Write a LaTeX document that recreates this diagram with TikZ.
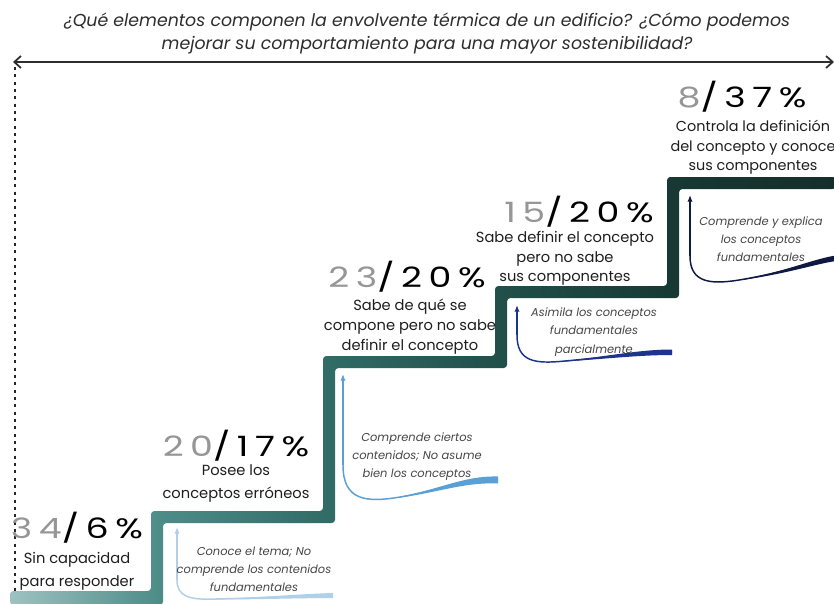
\documentclass[tikz,border=0pt]{standalone}
\usepackage{fontspec}
\usepackage{graphicx}
\setmainfont{Poppins}
\newfontfamily\numfont[LetterSpace=18]{Poppins}
\usetikzlibrary{arrows.meta}
\definecolor{numgray}{RGB}{150,150,150}
\definecolor{labtxt}{RGB}{30,30,30}
\definecolor{ittxt}{RGB}{70,70,70}
\definecolor{titletxt}{RGB}{45,45,45}
\definecolor{arrA}{RGB}{175,208,232}
\definecolor{arrB}{RGB}{90,160,215}
\definecolor{arrC}{RGB}{28,52,140}
\definecolor{arrD}{RGB}{15,25,65}
\pgfdeclarehorizontalshading{stairshade}{100bp}{rgb(0bp)=(0.62,0.76,0.76); rgb(25bp)=(0.62,0.76,0.76); rgb(34bp)=(0.30,0.55,0.53); rgb(44.4bp)=(0.19,0.42,0.40); rgb(54.7bp)=(0.13,0.31,0.29); rgb(65.2bp)=(0.09,0.22,0.20); rgb(75bp)=(0.08,0.18,0.17); rgb(100bp)=(0.08,0.18,0.17)}
\newcommand{\numtxt}[2]{\scalebox{1.3}[1]{\textcolor{numgray}{#1}/#2\%}}
\tikzset{
  num/.style={inner sep=0pt, text=black, font=\numfont\fontsize{21}{24}\selectfont},
  lab/.style={inner sep=0pt, align=center, text=labtxt},
  itl/.style={inner sep=0pt, align=center, text=ittxt, font=\itshape\fontsize{8.6}{13.6}\selectfont},
  curveline/.style={line width=1.1pt},
}
\begin{document}
\begin{tikzpicture}[x=0.75pt,y=-0.75pt]
\useasboundingbox (0,0) rectangle (834,603);
\fill[white] (0,0) rectangle (834,603);
% title
\node[inner sep=0pt, align=center, text=titletxt, font=\itshape\fontsize{13}{17.3}\selectfont] (title) at (427,33)
  {¿Qué elementos componen la envolvente térmica de un edificio? ¿Cómo podemos\\ mejorar su comportamiento para una mayor sostenibilidad?};
% axis
\coordinate (axL) at (13,62);
\coordinate (axR) at (834,62);
\draw[line width=1.3pt, titletxt, {Straight Barb[length=5pt,width=9pt]}-{Straight Barb[length=5pt,width=9pt]}] (axL) -- (axR);
\coordinate (dotT) at (15,67);
\coordinate (dotB) at (15,603);
\draw[line width=2.1pt, black!85, dash pattern=on 2.2pt off 3.3pt] (dotT) -- (dotB);
% staircase band
\shade[shading=stairshade, rounded corners=2.5pt]
 (10,591) -- (151,591) -- (151,511) -- (323,511) -- (323,356) -- (495,356) -- (495,286) -- (667,286) -- (667,177) -- (836,177)
 -- (836,189) -- (679,189) -- (679,298) -- (507,298) -- (507,368) -- (335,368) -- (335,523) -- (163,523) -- (163,605) -- (10,605) -- cycle;
% curved arrows
% A
\coordinate (tA) at (177,527);
\coordinate (vA) at (177,580);
\draw[arrA, curveline, -{Latex[length=5pt,width=4pt]}] (vA) -- (tA);
\draw[arrA, curveline] (vA) .. controls (177,597) and (190,600) .. (215,599) .. controls (260,598) and (300,596) .. (333,595);
\fill[arrA] (215,599) .. controls (260,597.5) and (300,594) .. (333,593) -- (333,598) .. controls (300,598) and (260,599.5) .. (215,599.5) -- cycle;
% B
\coordinate (tB) at (343,374);
\coordinate (vB) at (343,465);
\draw[arrB, curveline, -{Latex[length=5pt,width=4pt]}] (vB) -- (tB);
\draw[arrB, curveline] (vB) .. controls (343,500) and (365,503) .. (400,497) .. controls (440,490) and (465,478) .. (498,480);
\fill[arrB] (400,497) .. controls (440,489) and (465,475.5) .. (498,476.5) -- (498,483.5) .. controls (465,482) and (440,492) .. (400,497.6) -- cycle;
% C
\coordinate (tC) at (517,305);
\coordinate (vC) at (517,335);
\draw[arrC, curveline, -{Latex[length=5pt,width=4pt]}] (vC) -- (tC);
\draw[arrC, curveline] (vC) .. controls (517,362) and (535,364) .. (565,361) .. controls (610,357) and (640,352) .. (672,352);
\fill[arrC] (565,361) .. controls (610,356) and (640,349.5) .. (672,349.5) -- (672,355) .. controls (640,355) and (610,358.5) .. (565,361.5) -- cycle;
% D
\coordinate (tD) at (690,195);
\coordinate (vD) at (690,256);
\draw[arrD, curveline, -{Latex[length=5pt,width=4pt]}] (vD) -- (tD);
\draw[arrD, curveline] (vD) .. controls (690,284) and (712,285) .. (745,279) .. controls (790,271) and (815,261) .. (836,258);
\fill[arrD] (745,279) .. controls (790,270) and (815,258.5) .. (836,255.5) -- (836,261) .. controls (815,264) and (790,273) .. (745,279.5) -- cycle;
% numbers
\node[num] (n1) at (77,528) {\numtxt{34}{6}};
\node[num] (n2) at (236,446) {\numtxt{20}{17}};
\node[num] (n3) at (407,277) {\numtxt{23}{20}};
\node[num] (n4) at (579,212) {\numtxt{15}{20}};
\node[num] (n5) at (742,97) {\numtxt{8}{37}};
% labels
\node[lab, font=\fontsize{11}{17.2}\selectfont] (l1) at (77,571.5) {Sin capacidad\\para responder};
\node[lab, font=\fontsize{11}{17.2}\selectfont] (l2) at (236,483.5) {Posee los\\conceptos erróneos};
\node[lab, font=\fontsize{11}{15}\selectfont] (l3) at (410,327) {Sabe de qué se\\compone pero no sabe\\definir el concepto};
\node[lab, font=\fontsize{11}{14.6}\selectfont] (l4) at (565,258.5) {Sabe definir el concepto\\pero no sabe\\sus componentes};
\node[lab, font=\fontsize{10.8}{14.6}\selectfont] (l5) at (753,147.5) {Controla la definición\\del concepto y conoce\\sus componentes};
% italic descriptions
\node[itl] (i1) at (254,569.5) {Conoce el tema; No\\comprende los contenidos\\fundamentales};
\node[itl] (i2) at (417,456.5) {Comprende ciertos\\contenidos; No asume\\bien los conceptos};
\node[itl] (i3) at (594,332) {Asimila los conceptos\\fundamentales\\parcialmente};
\node[itl] (i4) at (761,239.5) {Comprende y explica\\los conceptos\\fundamentales};
\end{tikzpicture}
\end{document}
